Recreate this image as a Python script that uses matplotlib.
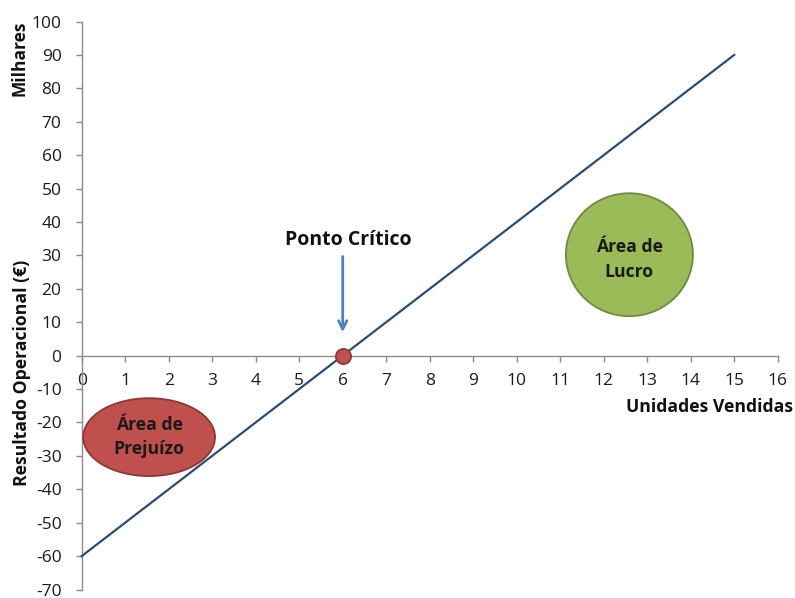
import matplotlib
matplotlib.use("Agg")
import matplotlib.pyplot as plt
from matplotlib.patches import Ellipse

plt.rcParams['font.family'] = ['Open Sans', 'DejaVu Sans']
plt.rcParams['axes.unicode_minus'] = False

# Operating result (thousand €) by units sold
unidades = [0, 1, 2, 3, 4, 5, 6, 7, 8, 9, 10, 11, 12, 13, 14, 15]
resultado = [-60, -50, -40, -30, -20, -10, 0, 10, 20, 30, 40, 50, 60, 70, 80, 90]
ponto_critico = (6, 0)

x_ticks = list(range(0, 17))
y_ticks = list(range(-70, 101, 10))

fig = plt.figure(figsize=(7.95, 5.98), dpi=100)
W, H = 795, 598
ax = fig.add_axes([81.7 / W, 1 - 589.5 / H, (777.7 - 81.7) / W, (589.5 - 21.5) / H])
ax.set_xlim(0, 16)
ax.set_ylim(-70, 100)

axis_col = '#8c8c8c'
for s in ['top', 'right']:
    ax.spines[s].set_visible(False)
ax.spines['bottom'].set_position(('data', 0))
ax.spines['left'].set_color(axis_col)
ax.spines['bottom'].set_color(axis_col)
ax.spines['left'].set_linewidth(1)
ax.spines['bottom'].set_linewidth(1)

ax.set_xticks(x_ticks)
ax.set_yticks(y_ticks)
ax.tick_params(axis='both', direction='out', length=4.5, width=1, color=axis_col,
               labelsize=12.5, labelcolor='#1a1a1a')
ax.tick_params(axis='y', pad=10)
ax.tick_params(axis='x', pad=8)

# Break-even line
ax.plot(unidades, resultado, color='#2b4c74', linewidth=1.6, zorder=3, clip_on=False)

# Loss and profit areas
ax.add_patch(Ellipse((1.55, -24.4), 3.03, 23.3, facecolor='#c0504d',
                     edgecolor='#8c3836', linewidth=1.3, zorder=4))
ax.text(1.55, -24.4, 'Área de\nPrejuízo', ha='center', va='center', fontsize=12.7,
        fontweight='bold', color='#1a1a1a', linespacing=1.45, zorder=5)

ax.add_patch(Ellipse((12.59, 30.2), 2.92, 36.8, facecolor='#9bbb59',
                     edgecolor='#71893f', linewidth=1.3, zorder=4))
ax.text(12.59, 28.8, 'Área de\nLucro', ha='center', va='center', fontsize=12.7,
        fontweight='bold', color='#1a1a1a', linespacing=1.45, zorder=5)

# Break-even point
ax.plot([ponto_critico[0]], [ponto_critico[1]], 'o', markersize=11,
        markerfacecolor='#c0504d', markeredgecolor='#8c3836', markeredgewidth=1.2,
        zorder=6, clip_on=False)
ax.annotate('', xy=(ponto_critico[0], 6.2), xytext=(ponto_critico[0], 30.5),
            arrowprops=dict(arrowstyle='->,head_length=0.6,head_width=0.3',
                            color='#4f81bd', linewidth=2))
ax.text(ponto_critico[0] + 0.12, 34.5, 'Ponto Crítico', ha='center', va='center',
        fontsize=14, fontweight='bold', color='#111111')

# Axis titles
fig.text(20 / W, 1 - 58 / H, 'Milhares', rotation=90, ha='center', va='center',
         fontsize=12.5, fontweight='bold', color='#111111')
fig.text(22 / W, 1 - 373 / H, 'Resultado Operacional (€)', rotation=90, ha='center',
         va='center', fontsize=12.7, fontweight='bold', color='#111111')
fig.text(710 / W, 1 - 407 / H, 'Unidades Vendidas', ha='center', va='center',
         fontsize=12.7, fontweight='bold', color='#111111')

fig.savefig('out.png', dpi=100)
